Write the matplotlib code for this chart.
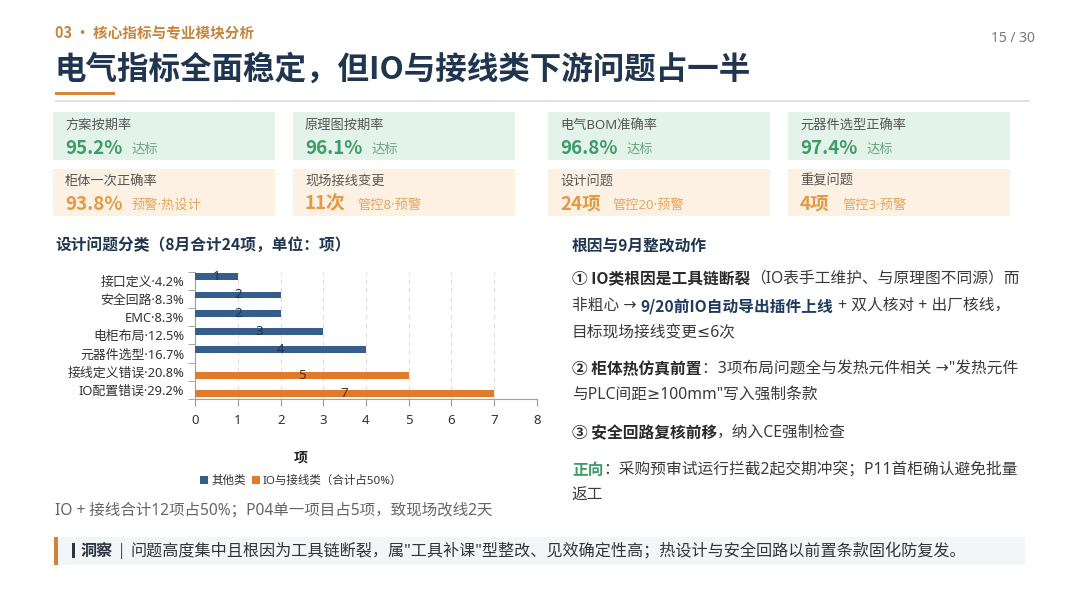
import numpy as np
import matplotlib.pyplot as plt
import matplotlib.patches as patches

plt.rcParams['font.family'] = ['Noto Sans CJK SC', 'DejaVu Sans']
# regular text: Latin glyphs from Noto Sans (narrow middle dot), math signs from DejaVu, CJK from Noto CJK
MIX = ['Noto Sans', 'DejaVu Sans', 'Noto Sans CJK SC']

# ---- data ----
categories = ["接口定义·4.2%", "安全回路·8.3%", "EMC·8.3%", "电柜布局·12.5%",
              "元器件选型·16.7%", "接线定义错误·20.8%", "IO配置错误·29.2%"]
other_counts = [1, 2, 2, 3, 4, 0, 0]
io_counts = [0, 0, 0, 0, 0, 5, 7]
series_names = ["其他类", "IO与接线类（合计占50%）"]
x_ticks = [0, 1, 2, 3, 4, 5, 6, 7, 8]

kpi_top_labels = ["方案按期率", "原理图按期率", "电气BOM准确率", "元器件选型正确率"]
kpi_top_values = ["95.2%", "96.1%", "96.8%", "97.4%"]
kpi_top_status = ["达标", "达标", "达标", "达标"]
kpi_bot_labels = ["柜体一次正确率", "现场接线变更", "设计问题", "重复问题"]
kpi_bot_values = ["93.8%", "11次", "24项", "4项"]
kpi_bot_status = ["预警·热设计", "管控8·预警", "管控20·预警", "管控3·预警"]

W, H = 1080, 608
fig = plt.figure(figsize=(W / 100, H / 100), dpi=100)
fig.patch.set_facecolor("white")

NAVY = "#1F3550"
BLUE = "#355E8A"
ORANGE = "#E07B2E"
TXT = "#3A3A3A"


def fx(px):
    return px / W


def fy(py):
    return 1 - py / H


def rect(x, y, w, h, color):
    fig.patches.append(patches.Rectangle((fx(x), fy(y + h)), w / W, h / H,
                                         transform=fig.transFigure, color=color, lw=0, zorder=0))


# ---- header ----
fig.text(fx(55), fy(33), "03 • 核心指标与专业模块分析", fontsize=10.5, color="#C8843C",
         fontweight="bold", va="center")
fig.text(fx(1035), fy(38), "15 / 30", fontsize=10, color="#777777", va="center", ha="right",
         family=MIX)
fig.text(fx(54), fy(70), "电气指标全面稳定，但IO与接线类下游问题占一半", fontsize=22.7,
         color=NAVY, fontweight="bold", va="center")
rect(55, 92, 60, 3, "#D4863A")
rect(55, 100, 975, 1.5, "#E2E2E2")

# ---- KPI cards ----
card_x = [53, 293, 548, 788]
card_w = 222
bot_offs = [78, 64, 64, 54]

for i in range(4):
    # top row (green)
    rect(card_x[i], 112, card_w, 48, "#E4F3EA")
    fig.text(fx(card_x[i] + 12), fy(125), kpi_top_labels[i], fontsize=9.5, color="#555555",
             va="center", family=MIX)
    fig.text(fx(card_x[i] + 12), fy(148), kpi_top_values[i], fontsize=13.5, color="#3E9B6A",
             fontweight="bold", va="center")
    fig.text(fx(card_x[i] + 78), fy(149), kpi_top_status[i], fontsize=9.5,
             color="#6FA585", va="center", family=MIX)
    # bottom row (orange)
    rect(card_x[i], 169, card_w, 47, "#FCF1E3")
    fig.text(fx(card_x[i] + 12), fy(181), kpi_bot_labels[i], fontsize=9.5, color="#555555",
             va="center", family=MIX)
    fig.text(fx(card_x[i] + 12), fy(204), kpi_bot_values[i], fontsize=13.5, color="#E39A45",
             fontweight="bold", va="center")
    fig.text(fx(card_x[i] + bot_offs[i]), fy(205), kpi_bot_status[i], fontsize=9.5,
             color="#E3A762", va="center", family=MIX)

# ---- bar chart ----
fig.text(fx(55), fy(245), "设计问题分类（8月合计24项，单位：项）", fontsize=11.3, color=NAVY,
         fontweight="bold", va="center")

ax = fig.add_axes([fx(195.3), fy(399), (536.7 - 195.3) / W, (399 - 271.7) / H])
y = np.arange(len(categories))
bh = 0.38
ax.barh(y - 0.22, other_counts, height=bh, color=BLUE, zorder=3, label=series_names[0])
ax.barh(y + 0.22, io_counts, height=bh, color=ORANGE, zorder=3, label=series_names[1])
for i in range(len(categories)):
    if other_counts[i]:
        ax.text(other_counts[i] / 2, y[i] - 0.22, str(other_counts[i]), ha="center", va="center",
                fontsize=9.5, color="#1E2F48", zorder=4, family=MIX)
    if io_counts[i]:
        ax.text(io_counts[i] / 2, y[i] + 0.22, str(io_counts[i]), ha="center", va="center",
                fontsize=9.5, color="#5A2A10", zorder=4, family=MIX)

ax.set_xlim(0, 8)
ax.set_ylim(len(categories) - 0.5, -0.5)
ax.set_xticks(x_ticks)
ax.set_yticks(y)
ax.set_yticklabels(categories, family=MIX)
ax.set_yticks(np.arange(-0.5, len(categories), 1), minor=True)
ax.tick_params(axis="y", which="major", length=0, pad=8, labelsize=9.3, labelcolor="#333333")
ax.tick_params(axis="y", which="minor", length=5, color="#999999")
ax.tick_params(axis="x", length=5, color="#999999", labelsize=9.5, labelcolor="#333333", pad=6)
for lab in ax.get_xticklabels():
    lab.set_family(MIX)
for s in ["top", "right"]:
    ax.spines[s].set_visible(False)
for s in ["left", "bottom"]:
    ax.spines[s].set_color("#A0A0A0")
ax.grid(axis="x", linestyle=(0, (4, 4)), color="#DDDDDD", lw=0.8, zorder=0)
ax.set_facecolor("none")
ax.set_xlabel("项", fontsize=10, fontweight="bold", color="#222222", labelpad=17)
ax.xaxis.label.set_position((0.31, 0))
ax.legend(loc="upper center", bbox_to_anchor=(0.31, -0.52), ncol=2, frameon=False,
          prop={"family": MIX, "size": 8.3},
          handlelength=0.7, handleheight=0.7, handletextpad=0.3, columnspacing=0.5,
          labelcolor="#333333")

# ---- footer of left column ----
fig.text(fx(55), fy(511), "IO + 接线合计12项占50%；P04单一项目占5项，致现场改线2天", fontsize=11.2,
         color="#666666", va="center", family=MIX)

# ---- right column text ----
fig.text(fx(572), fy(246), "根因与9月整改动作", fontsize=11.3, color=NAVY, fontweight="bold", va="center")

# overlay axes for chained rich text, drawn above the background boxes
ax_txt = fig.add_axes([0, 0, 1, 1], zorder=5)
ax_txt.axis("off")


def draw_rich(x, ypx, parts, size=11.3):
    prev = None
    for s, color, weight in parts:
        fam = MIX if weight == "normal" else ['Noto Sans CJK SC', 'DejaVu Sans']
        if prev is None:
            prev = ax_txt.text(fx(x), fy(ypx), s, fontsize=size, color=color, fontweight=weight,
                               va="center", transform=fig.transFigure, family=fam)
        else:
            prev = ax_txt.annotate(s, xy=(1, 0.5), xycoords=prev, va="center", ha="left",
                                   fontsize=size, color=color, fontweight=weight,
                                   annotation_clip=False, family=fam)


lines = [
    (279, [("① IO类根因是工具链断裂", "#2A2A2A", "bold"),
           ("（IO表手工维护、与原理图不同源）而", TXT, "normal")]),
    (306, [("非粗心 → ", TXT, "normal"), ("9/20前IO自动导出插件上线", "#1F3A60", "bold"),
           (" + 双人核对 + 出厂核线，", TXT, "normal")]),
    (333, [("目标现场接线变更≤6次", TXT, "normal")]),
    (369, [("② 柜体热仿真前置", "#2A2A2A", "bold"),
           ("：3项布局问题全与发热元件相关 →\"发热元件", TXT, "normal")]),
    (395, [("与PLC间距≥100mm\"写入强制条款", TXT, "normal")]),
    (433, [("③ 安全回路复核前移", "#2A2A2A", "bold"), ("，纳入CE强制检查", TXT, "normal")]),
    (470, [("正向", "#3E9B6A", "bold"), ("：采购预审试运行拦截2起交期冲突；P11首柜确认避免批量", TXT, "normal")]),
    (496, [("返工", TXT, "normal")]),
]
for ypx, parts in lines:
    draw_rich(572, ypx, parts)

# ---- insight banner ----
rect(55, 537, 970, 28, "#F3F6F9")
rect(54, 537, 3.5, 28, "#D4823A")
rect(72, 543, 3, 15, "#2B3440")
draw_rich(81, 551, [("洞察", "#2B3440", "bold"), (" | ", "#555555", "normal"),
                    ("问题高度集中且根因为工具链断裂，属\"工具补课\"型整改、见效确定性高；热设计与安全回路以前置条款固化防复发。",
                     "#333333", "normal")], size=11.6)

fig.savefig("out.png", dpi=100, facecolor="white")
